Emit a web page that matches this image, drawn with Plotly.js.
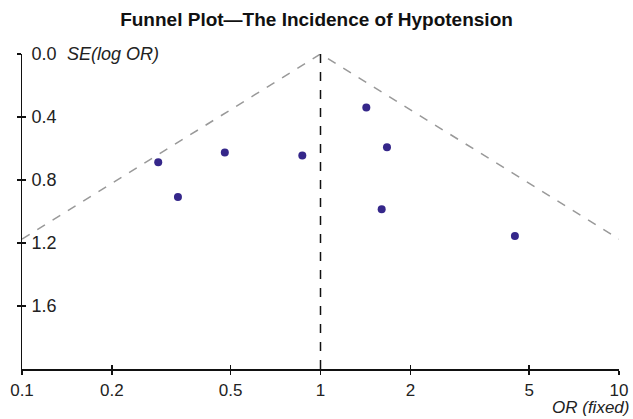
<!DOCTYPE html>
<html>
<head>
<meta charset="utf-8">
<script src="https://cdn.plot.ly/plotly-3.0.1.min.js"></script>
<style>html,body{margin:0;padding:0;background:#fff}#chart{width:633px;height:419px}</style>
</head>
<body>
<div id="chart"></div>
<script>
var orValues = [0.286, 0.333, 0.478, 0.869, 1.424, 1.603, 1.670, 4.48];
var seValues = [0.687, 0.908, 0.626, 0.645, 0.340, 0.985, 0.592, 1.155];
var funnelX = [0.1, 1, 10];
var funnelSE = [1.175, 0, 1.175];
var centerX = [1, 1];
var centerSE = [0, 2];
var xTicks = [0.1, 0.2, 0.5, 1, 2, 5, 10];
var xTickText = ['0.1', '0.2', '0.5', '1', '2', '5', '10'];
var yTicks = [0, 0.4, 0.8, 1.2, 1.6];
var yTickText = ['0.0', '0.4', '0.8', '1.2', '1.6'];

var font = {family: 'Liberation Sans, Arial, sans-serif', size: 18, color: '#222'};
var xfont = {family: font.family, size: 17, color: '#222'};
var xtitleFont = {family: font.family, size: 17, color: '#222'};

var traces = [
  {x: funnelX, y: funnelSE, mode: 'lines', line: {color: '#999', width: 1.5, dash: 'dash'}, hoverinfo: 'skip', showlegend: false},
  {x: centerX, y: centerSE, mode: 'lines', line: {color: '#111', width: 1.5, dash: 'dash'}, hoverinfo: 'skip', showlegend: false},
  {x: orValues, y: seValues, mode: 'markers', marker: {color: '#35278a', size: 8}, showlegend: false},
  {x: [1], y: [0], xaxis: 'x2', yaxis: 'y2', mode: 'markers', marker: {opacity: 0}, hoverinfo: 'skip', showlegend: false}
];

var layout = {
  width: 633, height: 419,
  margin: {l: 22, r: 14, t: 54, b: 50},
  paper_bgcolor: '#fff', plot_bgcolor: '#fff',
  font: font,
  showlegend: false,
  title: {text: '<b>Funnel Plot\u2014The Incidence of Hypotension</b>', font: {family: font.family, size: 19, color: '#111'}, x: 0.5, xanchor: 'center', y: 0.955, yanchor: 'middle'},
  xaxis: {type: 'log', range: [-1, 1], tickvals: xTicks, ticktext: xTickText, ticks: 'outside', ticklen: 4, tickwidth: 1.3, tickcolor: '#111',
          ticklabelstandoff: 1, ticklabeloverflow: 'allow', showline: true, linecolor: '#111', linewidth: 1.5, showgrid: false, zeroline: false, tickfont: xfont, fixedrange: true},
  xaxis2: {type: 'log', range: [-1, 1], overlaying: 'x', side: 'bottom', anchor: 'y', tickvals: xTicks, showticklabels: false, ticks: 'inside', ticklen: 4, tickwidth: 1.3, tickcolor: '#111',
          showline: false, showgrid: false, zeroline: false},
  yaxis: {range: [2, 0], tickvals: yTicks, ticktext: yTickText, ticks: 'outside', ticklen: 4, tickwidth: 1.3, tickcolor: '#111',
          ticklabelposition: 'inside', ticklabelstandoff: 10, ticklabeloverflow: 'allow', showline: true, linecolor: '#111', linewidth: 1.5, showgrid: false, zeroline: false, tickfont: font, fixedrange: true},
  yaxis2: {range: [2, 0], overlaying: 'y', side: 'left', anchor: 'x', tickvals: yTicks, showticklabels: false, ticks: 'inside', ticklen: 4, tickwidth: 1.3, tickcolor: '#111',
          showline: false, showgrid: false, zeroline: false},
  annotations: [
    {text: '<i>SE(log OR)</i>', xref: 'paper', yref: 'paper', x: 0.072, y: 1, xanchor: 'left', yanchor: 'middle', showarrow: false, font: font},
    {text: '<i>OR (fixed)</i>', xref: 'paper', yref: 'paper', x: 1.018, y: -0.1556, xanchor: 'right', yanchor: 'bottom', showarrow: false, font: xtitleFont, borderpad: 0}
  ]
};

Plotly.newPlot('chart', traces, layout, {displayModeBar: false, staticPlot: true});
</script>
</body>
</html>
